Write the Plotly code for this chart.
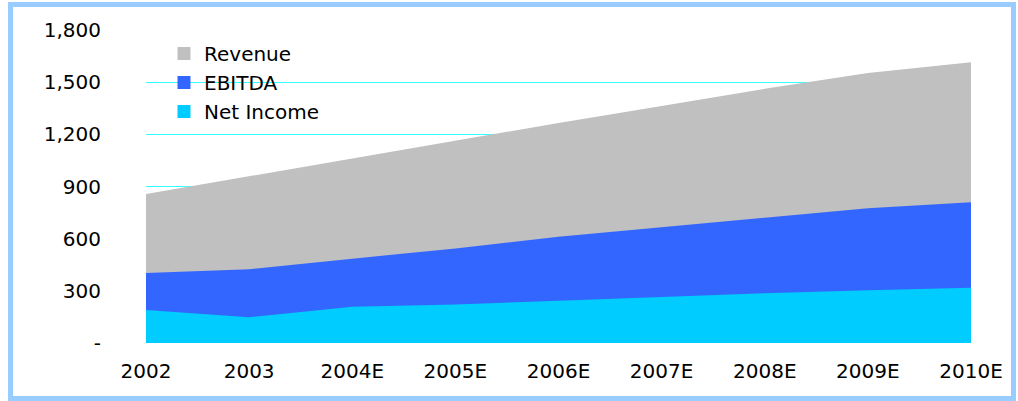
import plotly.graph_objects as go

years = ["2002", "2003", "2004E", "2005E", "2006E", "2007E", "2008E", "2009E", "2010E"]
revenue = [857, 960, 1062, 1165, 1265, 1363, 1462, 1553, 1615]
ebitda = [403, 424, 485, 544, 611, 665, 717, 775, 810]
net_income = [190, 148, 209, 222, 243, 266, 286, 303, 318]

y_ticks = [0, 300, 600, 900, 1200, 1500, 1800]
y_labels = ["-", "300", "600", "900", "1,200", "1,500", "1,800"]

xs = list(range(len(years)))

fig = go.Figure()
series = [("Revenue", revenue, "#C0C0C0"), ("EBITDA", ebitda, "#3366FF"), ("Net Income", net_income, "#00CCFF")]
for name, vals, col in series:
    fig.add_trace(go.Scatter(x=xs, y=vals, name=name, mode="lines", fill="tozeroy",
                             line=dict(width=0, color=col), fillcolor=col,
                             showlegend=False))
for name, vals, col in series:
    fig.add_trace(go.Scatter(x=[None], y=[None], name=name, mode="markers",
                             marker=dict(symbol="square", size=13, color=col)))

W, H = 1018, 401
L, R, T, B = 146, 47, 30, 58
pw, ph = W - L - R, H - T - B

def px(x):
    return (x - L) / pw

def py(y):
    return (H - B - y) / ph

fig.update_layout(
    width=W, height=H,
    margin=dict(l=L, r=R, t=T, b=B),
    paper_bgcolor="white", plot_bgcolor="white",
    font=dict(family="DejaVu Sans, Verdana, sans-serif", size=20, color="black"),
    showlegend=True,
    legend=dict(x=px(164), y=py(34), xanchor="left", yanchor="top",
                bgcolor="rgba(0,0,0,0)", font=dict(size=20), tracegroupgap=0,
                itemwidth=30),
    xaxis=dict(range=[0, len(years) - 1], tickvals=xs, ticktext=years, showgrid=False,
               zeroline=False, showline=False, ticks="", ticklabelstandoff=14),
    yaxis=dict(range=[0, 1800], tickvals=y_ticks, ticktext=y_labels, showgrid=True,
               gridcolor="#33FFFF", gridwidth=1, zeroline=False, showline=False,
               ticks="", ticklabelstandoff=44),
    shapes=[dict(type="rect", xref="paper", yref="paper",
                 x0=px(10.5), x1=px(1013.5), y0=py(398.5), y1=py(4.5),
                 line=dict(color="#99CCFF", width=5), layer="above")],
)

fig.write_html("out.html")
